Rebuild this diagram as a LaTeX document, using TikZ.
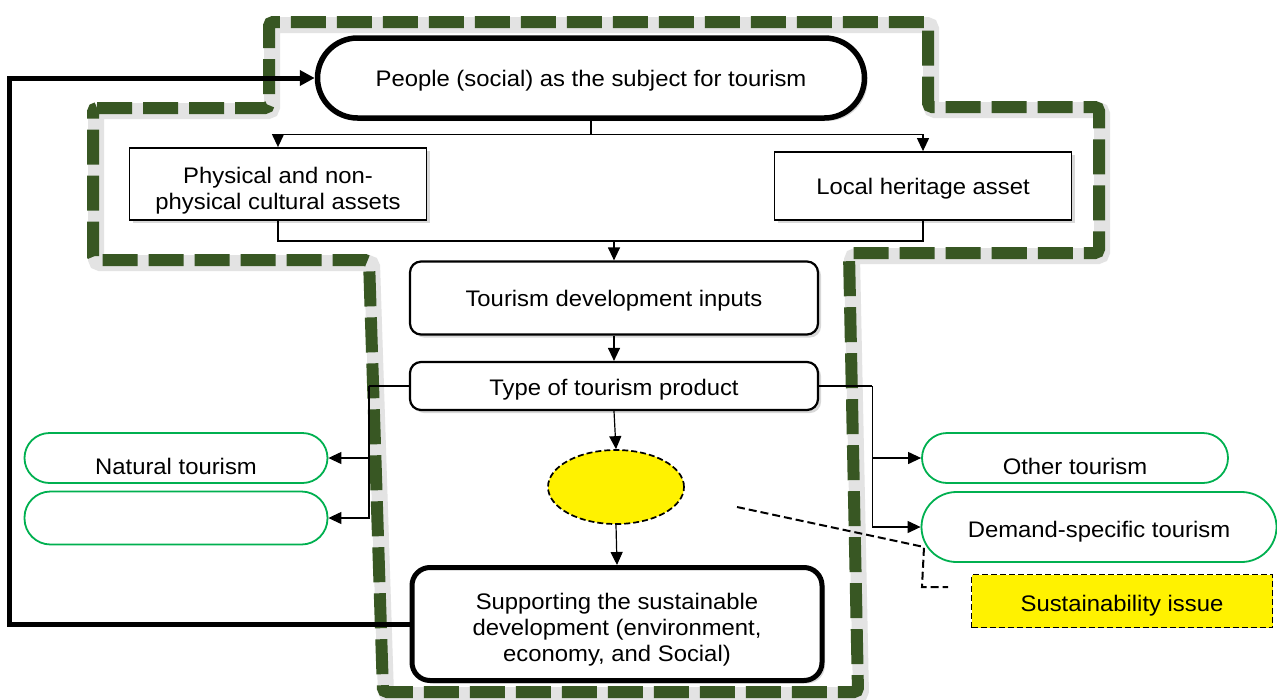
\documentclass[tikz,border=0pt]{standalone}
\usepackage{fontspec}
\setmainfont{Liberation Sans}[FakeStretch=1.06]
\usetikzlibrary{arrows.meta,shadows,calc,shapes.geometric}
\definecolor{frameGreen}{RGB}{56,87,35}
\definecolor{lineGreen}{RGB}{0,176,80}
\newcommand\dn[2]{\raisebox{-#1}[\height][\depth]{#2}}
\newcommand\dnn[2]{\raisebox{-#1}[\height][\depth]{\begin{tabular}{@{}c@{}}#2\end{tabular}}}
\begin{document}
\begin{tikzpicture}[x=1pt,y=-1pt,
  every node/.style={font=\fontsize{22.5}{26}\selectfont, align=center, inner sep=0pt},
  sh/.style={drop shadow={shadow xshift=3pt, shadow yshift=-3pt, opacity=0.3}},
  plainbox/.style={draw, line width=1.8pt, fill=white, sh},
  roundbox/.style={draw, line width=2.2pt, fill=white, rounded corners=11pt, sh},
  greenpill/.style={draw=lineGreen, line width=1.8pt, fill=white},
  conn/.style={line width=1.2pt},
  arr/.style={line width=1.2pt, -{Triangle[length=13pt,width=12pt]}},
  bigarr/.style={line width=5pt, -{Triangle[length=15pt,width=15pt]}},
  yellowdash/.style={draw, fill=yellow, dash pattern=on 6pt off 3pt, line width=1.7pt}
]
\useasboundingbox (0,0) rectangle (1277,699);
\fill[white] (0,0) rectangle (1277,699);

% green dashed frame with soft shadow
\draw[gray!22, line width=16pt, rounded corners=4pt]
  (96,111) -- (272,111) -- (272,25) -- (931,25) -- (931,110) -- (1102,110)
  -- (1102,256) -- (852,256) -- (861,695) -- (386,695) -- (372,263) -- (96,263) -- cycle;
\draw[frameGreen, line width=12pt, dash pattern=on 35pt off 11pt, rounded corners=4pt]
  (93,108) -- (269,108) -- (269,22) -- (928,22) -- (928,107) -- (1099,107)
  -- (1099,253) -- (849,253) -- (858,692) -- (383,692) -- (369,260) -- (93,260) -- cycle;

% nodes
\node[draw, line width=5.5pt, fill=white, rounded corners=40pt, minimum width=547pt, minimum height=80pt, sh]
  (people) at (591,78) {\dn{3pt}{People (social) as the subject for tourism}};
\node[plainbox, minimum width=297pt, minimum height=72pt] (phys) at (278,184)
  {\dnn{7pt}{Physical and non-\\physical cultural assets}};
\node[plainbox, minimum width=297pt, minimum height=68pt] (local) at (923,186)
  {\dn{3pt}{Local heritage asset}};
\node[roundbox, minimum width=408pt, minimum height=73pt] (tdi) at (614,298)
  {\dn{3pt}{Tourism development inputs}};
\node[roundbox, minimum width=408pt, minimum height=48pt] (type) at (614,386)
  {\dn{4pt}{Type of tourism product}};
\node[ellipse, yellowdash, minimum width=136pt, minimum height=74pt] (ell) at (616,487) {};
\node[draw, line width=5pt, fill=white, rounded corners=18pt, minimum width=410pt, minimum height=113pt, sh]
  (supp) at (617,624) {\dnn{6pt}{Supporting the sustainable\\development (environment,\\economy, and Social)}};
\node[greenpill, rounded corners=25pt, minimum width=303pt, minimum height=50pt] (nat) at (176,458)
  {\dn{8pt}{Natural tourism}};
\node[greenpill, rounded corners=26pt, minimum width=303pt, minimum height=53pt] (empty) at (176,518) {};
\node[greenpill, rounded corners=25pt, minimum width=306pt, minimum height=50pt] (other) at (1075,458)
  {\dn{8pt}{Other tourism}};
\node[greenpill, rounded corners=35pt, minimum width=355pt, minimum height=70pt] (demand) at (1099,527)
  {\dn{5pt}{Demand-specific tourism}};
\node[yellowdash, minimum width=301pt, minimum height=53pt] (sust) at (1122,601)
  {\dn{5pt}{Sustainability issue}};

% connectors
\draw[conn] (people.south) -- ++(0,14) coordinate (jtop);
\draw[arr] (jtop) -| (phys.north);
\draw[arr] (jtop) -| (local.north);
\draw[conn] (phys.south) -- ++(0,20) coordinate (jb) -| (local.south);
\coordinate (jmid) at (tdi.north |- jb);
\draw[arr] (jmid) -- (tdi.north);
\draw[arr] (tdi.south) -- (type.north);
\draw[arr] (type.south) -- (ell.north);
\draw[arr] (ell.south) -- (supp.north);

\draw[conn] (type.west) -- ++(-40,0) coordinate (jl);
\draw[arr] (jl) |- (nat.east);
\draw[arr] (jl) |- (empty.east);
\draw[conn] (type.east) -- ++(53,0) coordinate (jr);
\draw[arr] (jr) |- (other.west);
\draw[arr] (jr) |- (demand.west);

\draw[bigarr] (supp.west) -- ++(-400,0) |- (people.west);

% dashed pointer
\coordinate (p0) at (737,507);
\coordinate (p1) at (924,547);
\coordinate (p2) at (922,587);
\coordinate (p3) at (948,587);
\draw[dash pattern=on 8pt off 4pt, line width=2pt] (p0) -- (p1) -- (p2) -- (p3);
\end{tikzpicture}
\end{document}
